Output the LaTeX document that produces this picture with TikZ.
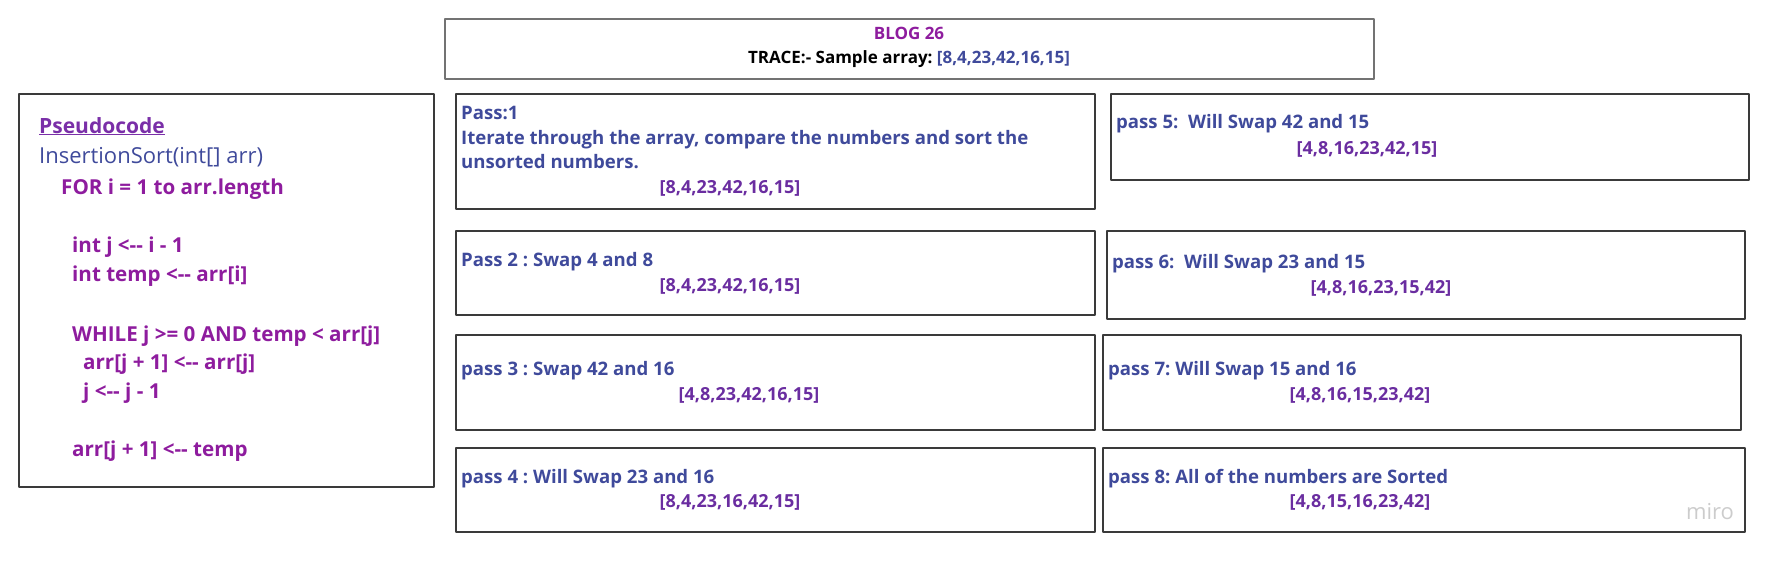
\documentclass[tikz,border=0pt]{standalone}
\usepackage{fontspec}
\setmainfont{Open Sans}
\frenchspacing
\definecolor{plum}{HTML}{8E1C9E}
\definecolor{indigo}{HTML}{3F4A9B}
\definecolor{grape}{HTML}{6A2DA0}
\definecolor{heading}{HTML}{7A2FA8}
\definecolor{edge}{HTML}{3A3A3A}
\tikzset{
  frame/.style={draw=edge, line width=1.2pt},
  label/.style={anchor=base west, inner sep=0pt, text=indigo, font=\bfseries\fontsize{18.6}{22}\selectfont},
  list/.style={anchor=base, inner sep=0pt, text=grape, font=\bfseries\fontsize{18}{21}\selectfont},
  code/.style={anchor=base west, inner sep=0pt, text=plum, font=\bfseries\fontsize{20.6}{24}\selectfont}
}
\begin{document}
\begin{tikzpicture}[x=1pt, y=1pt, line join=round, line cap=round]
			\useasboundingbox (0,0) rectangle (1778,-562);
			% boxes
			\draw[frame, draw=gray!90!black] (445,-19) rectangle (1374,-79);
			\draw[frame] (19,-94) rectangle (434,-487);
			\draw[frame] (456,-94) rectangle (1095,-209);
			\draw[frame] (456,-231) rectangle (1095,-315);
			\draw[frame] (456,-335) rectangle (1095,-430);
			\draw[frame] (456,-448) rectangle (1095,-532);
			\draw[frame] (1111,-94) rectangle (1749,-180);
			\draw[frame] (1107,-231) rectangle (1745,-319);
			\draw[frame] (1103,-335) rectangle (1741,-430);
			\draw[frame] (1103,-448) rectangle (1745,-532);
			% title
			\node[list, text=plum, font=\bfseries\fontsize{17}{20}\selectfont] (blog) at (909,-39) {BLOG 26};
			\node[list, text=black, font=\bfseries\fontsize{17}{20}\selectfont] (trace) at (909,-63) {TRACE:- Sample array: \textcolor{indigo}{[8,4,23,42,16,15]}};
			% pseudocode
			\node[code, text=heading, font=\bfseries\fontsize{21}{24}\selectfont] (head) at (39,-133) {\underline{Pseudocode}};
			\node[code, text=indigo, font=\fontsize{22}{26}\selectfont] (sig) at (39,-163) {InsertionSort(int[] arr)};
			\node[code] (for) at (61,-194) {FOR i = 1 to arr.length};
			\node[code] (initj) at (72,-252) {int j <-{}- i - 1};
			\node[code] (temp) at (72,-281) {int temp <-{}- arr[i]};
			\node[code] (while) at (72,-341) {WHILE j >= 0 AND temp < arr[j]};
			\node[code] (shift) at (83,-369) {arr[j + 1] <-{}- arr[j]};
			\node[code] (dec) at (83,-398) {j <-{}- j - 1};
			\node[code] (put) at (72,-456) {arr[j + 1] <-{}- temp};
			% passes
			\node[label] (p1) at (461,-119) {Pass:1};
			\node[label] (p1a) at (461,-144) {Iterate through the array, compare the numbers and sort the};
			\node[label] (p1b) at (461,-168) {unsorted numbers.};
			\node[list] (a1) at (730,-193) {[8,4,23,42,16,15]};
			\node[label] (p2) at (461,-266) {Pass 2 : Swap 4 and 8};
			\node[list] (a2) at (730,-291) {[8,4,23,42,16,15]};
			\node[label] (p3) at (461,-375) {pass 3 : Swap 42 and 16};
			\node[list] (a3) at (749,-400) {[4,8,23,42,16,15]};
			\node[label] (p4) at (461,-483) {pass 4 : Will Swap 23 and 16};
			\node[list] (a4) at (730,-507) {[8,4,23,16,42,15]};
			\node[label] (p5) at (1116,-128) {pass 5:\ \ Will Swap 42 and 15};
			\node[list] (a5) at (1367,-154) {[4,8,16,23,42,15]};
			\node[label] (p6) at (1112,-268) {pass 6:\ \ Will Swap 23 and 15};
			\node[list] (a6) at (1381,-293) {[4,8,16,23,15,42]};
			\node[label] (p7) at (1108,-375) {pass 7: Will Swap 15 and 16};
			\node[list] (a7) at (1360,-400) {[4,8,16,15,23,42]};
			\node[label] (p8) at (1108,-483) {pass 8: All of the numbers are Sorted};
			\node[list] (a8) at (1360,-507) {[4,8,15,16,23,42]};
			\node[list, text=gray!40, font=\fontsize{22}{26}\selectfont] (miro) at (1710,-519) {miro};
\end{tikzpicture}
\end{document}
